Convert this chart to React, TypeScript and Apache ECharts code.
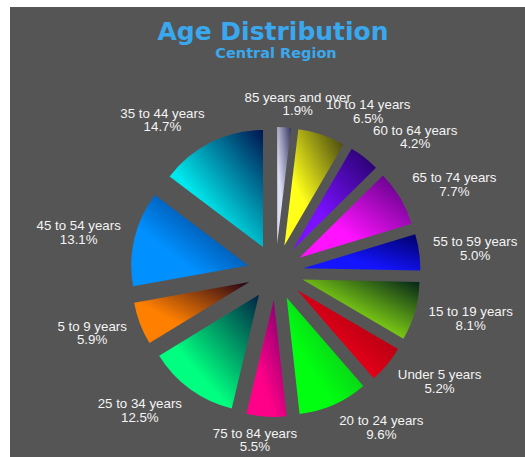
import React, { useEffect, useRef } from 'react';
import * as echarts from 'echarts';

const titleText = 'Age Distribution';
const subtitleText = 'Central Region';

const categories = [
  '85 years and over',
  '10 to 14 years',
  '60 to 64 years',
  '65 to 74 years',
  '55 to 59 years',
  '15 to 19 years',
  'Under 5 years',
  '20 to 24 years',
  '75 to 84 years',
  '25 to 34 years',
  '5 to 9 years',
  '45 to 54 years',
  '35 to 44 years',
];
const shares = [1.9, 6.5, 4.2, 7.7, 5.0, 8.1, 5.2, 9.6, 5.5, 12.5, 5.9, 13.1, 14.7];

const brightColors = [
  '#dcdcf4', '#ffff1a', '#7a10ff', '#ff12ff', '#1414ff', '#8ce014', '#e80018',
  '#00ff10', '#ff0088', '#00ff80', '#ff8000', '#0090ff', '#00e8ec',
];
const darkColors = [
  '#34345e', '#3a3a10', '#200060', '#4a0078', '#000066', '#002018', '#8a000e',
  '#16a020', '#70006a', '#002244', '#200018', '#002262', '#001450',
];

const W = 515;
const H = 450;
const CX = 265.5;
const CY = 265;
const R = 117;
const OFFSET = 28;
const LABEL_DX = 159;
const LABEL_DY = 155;
const LABEL_FONT = 13.3;
const LABEL_LH = 13.5;

export default function App() {
  const ref = useRef<HTMLDivElement>(null);

  useEffect(() => {
    if (!ref.current) return;
    const chart = echarts.init(ref.current, undefined, { renderer: 'svg' });
    const total = shares.reduce((a, b) => a + b, 0);
    const cum: number[] = [];
    let acc = 0;
    shares.forEach((v) => {
      cum.push(acc);
      acc += v;
    });
    const clamp = (v: number) => Math.max(-1, Math.min(1, v));
    const canvas = document.createElement('canvas');
    const ctx = canvas.getContext('2d');
    const measure = (t: string) => {
      if (!ctx) return t.length * LABEL_FONT * 0.5;
      ctx.font = `${LABEL_FONT}px "Liberation Sans"`;
      return ctx.measureText(t).width;
    };
    const fmt = (i: number) => `${categories[i]}\n${shares[i].toFixed(1)}%`;

    const sliceData = categories.map((name, i) => ({
      name,
      value: shares[i],
      selected: true,
      itemStyle: {
        color: new echarts.graphic.LinearGradient(0, 1, 1, 0, [
          { offset: 0, color: brightColors[i] },
          { offset: 0.35, color: brightColors[i] },
          { offset: 1, color: darkColors[i] },
        ]),
      },
    }));
    const labelData = categories.map((name, i) => ({ name, value: shares[i] }));

    chart.setOption({
      animation: false,
      backgroundColor: '#555555',
      title: [
        {
          text: titleText,
          left: 263,
          textAlign: 'center',
          top: 12,
          padding: 0,
          textStyle: {
            fontFamily: 'DejaVu Sans',
            fontWeight: 'bold',
            fontSize: 25,
            color: '#3aa8ee',
          },
        },
        {
          text: subtitleText,
          left: 266,
          textAlign: 'center',
          top: 38,
          padding: 0,
          textStyle: {
            fontFamily: 'DejaVu Sans',
            fontWeight: 'bold',
            fontSize: 14.5,
            color: '#3aa8ee',
          },
        },
      ],
      series: [
        {
          type: 'pie',
          center: [CX, CY],
          radius: R,
          startAngle: 90,
          clockwise: true,
          selectedMode: 'multiple',
          selectedOffset: OFFSET,
          silent: true,
          emphasis: { disabled: true },
          select: { itemStyle: { borderWidth: 0 } },
          itemStyle: { borderWidth: 0 },
          label: { show: false },
          labelLine: { show: false },
          data: sliceData,
        },
        {
          type: 'pie',
          center: [CX, CY],
          radius: R,
          startAngle: 90,
          clockwise: true,
          selectedMode: false,
          avoidLabelOverlap: false,
          silent: true,
          emphasis: { disabled: true },
          itemStyle: { color: 'rgba(0,0,0,0)', borderWidth: 0 },
          labelLine: { show: false },
          label: {
            show: true,
            position: 'outside',
            color: '#f4f4f4',
            fontFamily: 'Liberation Sans',
            fontSize: LABEL_FONT,
            lineHeight: LABEL_LH,
            formatter: (p: any) => fmt(p.dataIndex),
          },
          labelLayout: (p: any) => {
            const i = p.dataIndex;
            const a = ((cum[i] + shares[i] / 2) / total) * Math.PI * 2;
            const s = Math.sin(a);
            const c = Math.cos(a);
            const lines = fmt(i).split('\n');
            const w = Math.max(...lines.map(measure));
            const h = lines.length * LABEL_LH;
            return {
              x: CX + LABEL_DX * s + (w / 2) * clamp(4 * s),
              y: CY - LABEL_DY * c - (h / 2) * clamp(1.2 * c),
              align: 'center',
              verticalAlign: 'middle',
            };
          },
          data: labelData,
        },
      ],
    });
    return () => chart.dispose();
  }, []);

  return (
    <div style={{ position: 'fixed', left: 0, top: 0, width: 525, height: 457, background: '#ffffff' }}>
      <div ref={ref} style={{ position: 'absolute', left: 10, top: 7, width: W, height: H }} />
    </div>
  );
}
